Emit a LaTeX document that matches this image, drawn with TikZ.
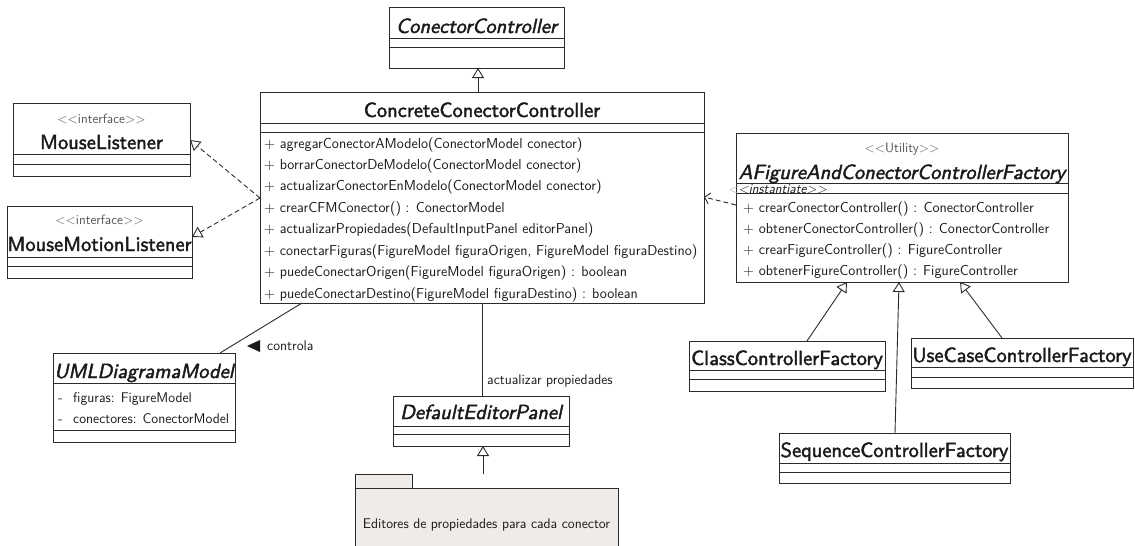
\documentclass[tikz,border=0pt]{standalone}
\usepackage{fontspec}
\usetikzlibrary{arrows.meta}
\newfontfamily\classfont{lmsans10-regular.otf}[ItalicFont=lmsans10-oblique.otf, FakeBold=2]
\definecolor{linec}{HTML}{2B2B2B}
\definecolor{txtc}{HTML}{1A1A1A}
\definecolor{stereoc}{HTML}{555555}
\definecolor{pkgfill}{HTML}{EEEBE8}
\begin{document}
\begin{tikzpicture}[x=1pt,y=-1pt,
  box/.style={draw=linec, line width=0.9pt, inner sep=0pt, outer sep=0pt, anchor=north west, fill=white},
  pkgbox/.style={box, fill=pkgfill},
  sep/.style={draw=linec, line width=0.9pt},
  ttl/.style={anchor=base, inner sep=0pt, text=txtc, font=\fontsize{20.5}{22}\classfont},
  ittl/.style={ttl, font=\fontsize{20.5}{22}\classfont\itshape},
  stereo/.style={anchor=base, inner sep=0pt, text=stereoc, font=\fontsize{13.5}{15}\usefont{TU}{lmss}{m}{n}},
  member/.style={anchor=base west, inner sep=0pt, text=txtc, font=\fontsize{14.4}{16}\usefont{TU}{lmss}{m}{n}},
  lbl/.style={member, font=\fontsize{14}{16}\usefont{TU}{lmss}{m}{n}},
  gen/.style={draw=linec, line width=0.9pt, -{Triangle[open, length=10pt, width=12pt, fill=white]}},
  real/.style={gen, dash pattern=on 5pt off 3pt},
  dep/.style={draw=linec, line width=0.9pt, dash pattern=on 5pt off 3pt, -{Straight Barb[length=5pt, width=11pt]}},
  assoc/.style={draw=linec, line width=0.9pt}
]
\useasboundingbox (0,0) rectangle (1135,546);

% ---------- ConectorController ----------
\node[box, minimum width=175, minimum height=61] (cc) at (389,7) {};
\draw[sep] (389,38) -- (564,38) (389,47) -- (564,47);
\node[ittl] (cc-name) at (476.5,33) {ConectorController};

% ---------- ConcreteConectorController ----------
\node[box, minimum width=444, minimum height=211] (ccc) at (260,92) {};
\draw[sep] (260,123) -- (704,123) (260,132) -- (704,132);
\node[ttl] (ccc-name) at (482,117) {ConcreteConectorController};
\foreach \t [count=\i from 0] in {
  {+ agregarConectorAModelo(ConectorModel conector)},
  {+ borrarConectorDeModelo(ConectorModel conector)},
  {+ actualizarConectorEnModelo(ConectorModel conector)},
  {+ crearCFMConector() : ConectorModel},
  {+ actualizarPropiedades(DefaultInputPanel editorPanel)},
  {+ conectarFiguras(FigureModel figuraOrigen, FigureModel figuraDestino)},
  {+ puedeConectarOrigen(FigureModel figuraOrigen) : boolean},
  {+ puedeConectarDestino(FigureModel figuraDestino) : boolean}}
  \node[member] (ccc-m\i) at (264,148+21.43*\i) {\t};

% ---------- interfaces ----------
\node[box, minimum width=177, minimum height=73] (ml) at (13,103) {};
\draw[sep] (13,154) -- (190,154) (13,164) -- (190,164);
\node[stereo] (ml-st) at (101.5,123) {<{}<interface>{}>};
\node[ttl] (ml-name) at (101.5,149) {MouseListener};

\node[box, minimum width=185, minimum height=72] (mml) at (7,206) {};
\draw[sep] (7,257) -- (192,257) (7,266) -- (192,266);
\node[stereo] (mml-st) at (99.5,224) {<{}<interface>{}>};
\node[ttl] (mml-name) at (99.5,251) {MouseMotionListener};

% ---------- factory ----------
\node[box, minimum width=332, minimum height=149] (af) at (736,133) {};
\draw[sep] (736,183) -- (1068,183) (736,193) -- (1068,193);
\node[stereo] (af-st) at (902,152) {<{}<Utility>{}>};
\node[ittl] (af-name) at (902,179) {AFigureAndConectorControllerFactory};
\node[member, font=\fontsize{13.5}{15}\usefont{TU}{lmss}{m}{sl}] (af-inst) at (728,193)
  {\textcolor{stereoc!50}{<}<instantiate>{}>};
\foreach \t [count=\i from 0] in {
  {+ crearConectorController() : ConectorController},
  {+ obtenerConectorController() : ConectorController},
  {+ crearFigureController() : FigureController},
  {+ obtenerFigureController() : FigureController}}
  \node[member] (af-m\i) at (743,212+21*\i) {\t};

\node[box, minimum width=196, minimum height=50] (ccf) at (689,341) {};
\draw[sep] (689,370) -- (885,370) (689,379) -- (885,379);
\node[ttl] (ccf-name) at (787,365) {ClassControllerFactory};

\node[box, minimum width=222, minimum height=50] (ucf) at (911,338) {};
\draw[sep] (911,367) -- (1133,367) (911,377) -- (1133,377);
\node[ttl] (ucf-name) at (1022,362) {UseCaseControllerFactory};

\node[box, minimum width=231, minimum height=50] (scf) at (779,433) {};
\draw[sep] (779,463) -- (1010,463) (779,472) -- (1010,472);
\node[ttl] (scf-name) at (894.5,457) {SequenceControllerFactory};

% ---------- model ----------
\node[box, minimum width=182, minimum height=89] (uml) at (53,353) {};
\draw[sep] (53,383) -- (235,383) (53,430) -- (235,430);
\node[ittl] (uml-name) at (144,378) {UMLDiagramaModel};
\node[lbl] (uml-a0) at (58,402) {-};
\node[lbl] (uml-a1) at (73,402) {figuras: FigureModel};
\node[lbl] (uml-a2) at (58,423) {-};
\node[lbl] (uml-a3) at (73,423) {conectores: ConectorModel};

% ---------- editor panel and package ----------
\node[box, minimum width=176, minimum height=50] (dep) at (393,396) {};
\draw[sep] (393,426) -- (569,426) (393,434) -- (569,434);
\node[ittl] (dep-name) at (481,419) {DefaultEditorPanel};

\node[pkgbox, minimum width=57, minimum height=14] (pkgtab) at (355,474) {};
\node[pkgbox, minimum width=263, minimum height=62] (pkg) at (355,488) {};
\node[lbl, anchor=base] (pkg-text) at (486.5,528) {Editores de propiedades para cada conector};

% ---------- connectors ----------
\draw[gen] (478,0 |- ccc.north) -- (478,0 |- cc.south);
\draw[real] (ccc.west |- 0,198) -- (ml.east |- 0,140);
\draw[real] (ccc.west |- 0,198) -- (mml.east |- 0,237);
\draw[dep] (af.west |- 0,205) -- (ccc.east |- 0,197);
\draw[gen] (807,0 |- ccf.north) -- (847,0 |- af.south);
\draw[gen] (895,0 |- scf.north) -- (899,0 |- af.south);
\draw[gen] (1002,0 |- ucf.north) -- (960,0 |- af.south);
\draw[assoc] (220,0 |- uml.north) -- (302,0 |- ccc.south);
\fill[txtc] (247,346) -- (260,340) -- (260,352) -- cycle;
\node[lbl] (assoc-lbl) at (267,350) {controla};
\draw[assoc] (482,0 |- ccc.south) -- (482,0 |- dep.north);
\node[lbl] (dep-lbl) at (487,384) {actualizar propiedades};
\draw[gen] (483,0 |- pkgtab.north) -- (483,0 |- dep.south);
\end{tikzpicture}
\end{document}
